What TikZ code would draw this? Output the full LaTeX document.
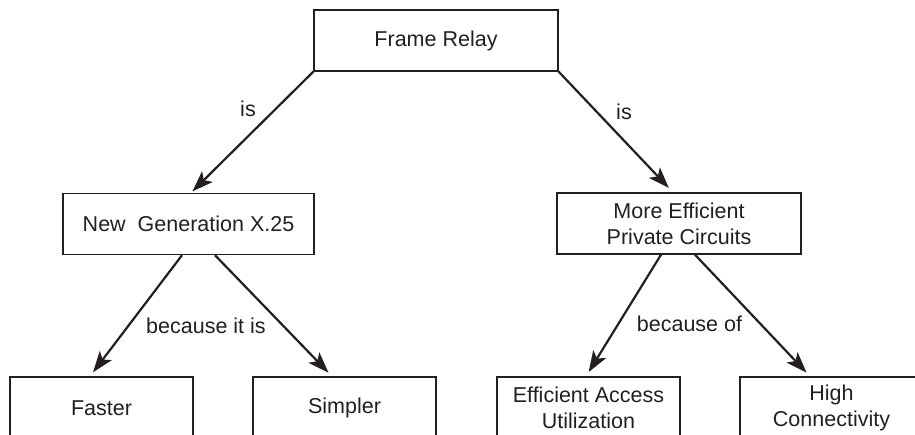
\documentclass[tikz,border=0pt]{standalone}
\usepackage{fontspec}
\setmainfont{Liberation Sans}
\usetikzlibrary{arrows.meta}
\definecolor{inkgray}{RGB}{35,31,32}
\tikzset{
  conceptbox/.style={draw=inkgray, line width=1.4pt, minimum width=244pt,
    minimum height=61pt, align=center, inner sep=0pt, text=inkgray,
    font=\fontsize{21.5}{26}\selectfont},
  leafbox/.style={conceptbox, minimum width=183pt, minimum height=62pt},
  linkarrow/.style={draw=inkgray, line width=2.2pt,
    -{Stealth[length=21pt,width=15pt,inset=5pt]}, shorten >=5pt},
  linklabel/.style={text=inkgray, inner sep=0pt,
    font=\fontsize{21.5}{26}\selectfont}
}

\begin{document}
\begin{tikzpicture}[x=1pt,y=-1pt]
  \clip (0,0) rectangle (915,434);
  % top concept
  \node[conceptbox] (relay) at (436,40.5) {Frame Relay};
  % second level
  \node[conceptbox, minimum width=251pt] (newgen) at (188.5,224) {New\ \ Generation X.25};
  \node[conceptbox] (private) at (679,223.5) {More Efficient\\Private Circuits};
  % leaves, cut off at the bottom edge
  \node[leafbox] (faster) at (101.5,408) {Faster};
  \node[leafbox] (simpler) at (344.5,408) {Simpler};
  \node[leafbox] (access) at (588.5,408) {Efficient Access\\Utilization};
  \node[leafbox] (connect) at (831.5,408) {High\\Connectivity};

  \draw[linkarrow, shorten >=2pt] (relay.south west) -- ([xshift=2.5pt]newgen.north);
  \draw[linkarrow, shorten >=6pt] (relay.south east) -- ([xshift=-6pt]private.north);
  \draw[linkarrow] ([xshift=-6.5pt]newgen.south) -- ([xshift=-11.5pt]faster.north);
  \draw[linkarrow] ([xshift=26.5pt]newgen.south) -- ([xshift=-12.5pt]simpler.north);
  \draw[linkarrow] ([xshift=-18pt]private.south) -- ([xshift=-2.5pt]access.north);
  \draw[linkarrow] ([xshift=16pt]private.south) -- ([xshift=-21.5pt]connect.north);

  \node[linklabel] (isleft) at (248,109) {is};
  \node[linklabel] (isright) at (624,112) {is};
  \node[linklabel] (becauseis) at (206,326) {because it is};
  \node[linklabel] (becauseof) at (689.5,324) {because of};
\end{tikzpicture}
\end{document}
